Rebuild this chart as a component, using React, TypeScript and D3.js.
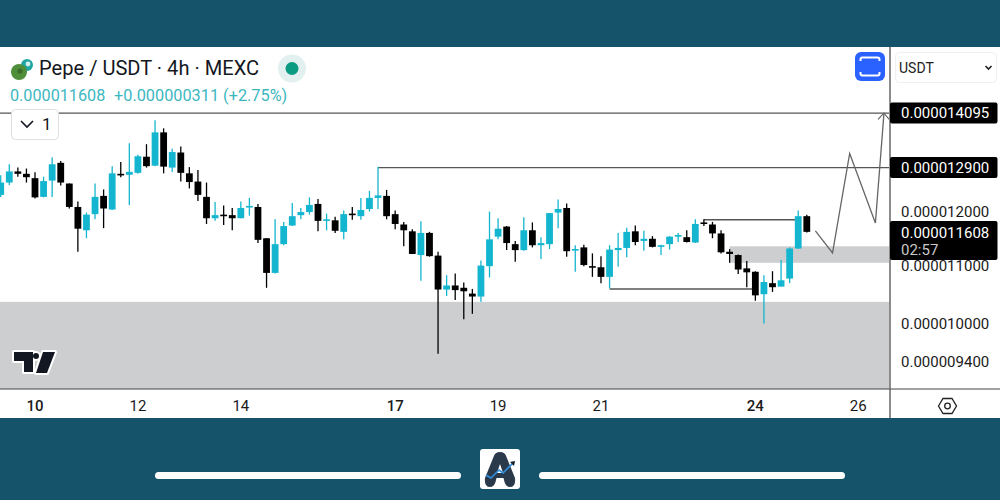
import * as d3 from "d3";

// prices in millionths of a USDT, one entry per 4h candle
const opens = [12.34,12.59,12.82,12.77,12.68,12.30,12.63,13.00,12.57,12.10,11.65,11.96,12.32,12.05,12.77,12.75,12.79,13.13,12.94,13.66,12.90,13.22,12.78,12.61,12.30,11.88,11.95,11.94,11.88,12.10,12.10,11.50,10.87,11.39,11.74,11.94,12.00,12.16,11.83,11.84,11.62,11.97,11.92,12.06,12.28,12.32,11.96,11.76,11.63,11.19,11.60,11.18,10.58,10.65,10.61,10.51,10.46,10.99,11.53,11.72,11.39,11.28,11.65,11.37,11.39,11.99,12.08,11.28,11.33,10.99,10.97,10.80,11.28,11.32,11.63,11.45,11.49,11.34,11.39,11.54,11.52,11.42,11.80,11.76,11.59,11.25,11.19,10.95,10.89,10.50,10.69,10.63,10.77,11.31,11.92];
const closes = [12.59,12.82,12.77,12.70,12.29,12.62,12.97,12.59,12.10,11.68,11.95,12.30,12.07,12.78,12.75,12.81,13.14,12.93,13.66,12.92,13.23,12.79,12.60,12.34,11.88,11.94,11.93,11.88,12.08,12.12,11.47,10.87,11.39,11.73,11.92,12.00,12.14,11.83,11.86,11.64,11.96,11.95,12.04,12.28,12.33,11.92,11.77,11.65,11.21,11.60,11.17,10.58,10.65,10.57,10.55,10.46,11.00,11.48,11.68,11.41,11.28,11.65,11.37,11.41,11.98,12.06,11.26,11.30,11.01,10.97,10.80,11.29,11.32,11.62,11.43,11.49,11.34,11.37,11.53,11.56,11.43,11.77,11.78,11.59,11.24,11.21,10.93,10.88,10.48,10.71,10.62,10.74,11.31,11.92,11.62];
const highs = [12.74,12.97,12.90,12.88,12.80,12.71,13.12,13.04,12.57,12.21,11.99,12.57,12.45,12.93,13.02,13.42,13.17,13.40,13.93,13.75,13.30,13.35,12.91,12.85,12.59,12.20,12.13,12.08,12.21,12.28,12.16,11.50,11.86,11.81,12.18,12.08,12.29,12.26,11.97,11.91,12.03,12.10,12.28,12.42,12.92,12.44,12.03,11.81,11.67,11.82,11.62,11.25,10.83,10.86,10.70,10.59,11.09,12.01,11.88,11.73,11.45,11.90,11.80,11.52,11.98,12.25,12.17,11.37,11.38,11.22,11.17,11.37,11.60,11.70,11.74,11.64,11.54,11.38,11.54,11.60,11.65,11.86,11.86,11.81,11.65,11.30,11.20,11.08,10.90,10.83,10.90,11.10,11.33,12.03,11.95];
const lows = [12.30,12.54,12.71,12.59,12.27,12.29,12.30,12.53,12.07,11.25,11.50,11.86,11.69,12.04,12.70,12.14,12.77,12.90,12.93,12.78,12.81,12.61,12.47,12.22,11.77,11.83,11.75,11.65,11.88,11.93,11.41,10.61,10.86,11.37,11.73,11.86,11.95,11.63,11.65,11.60,11.48,11.85,11.85,12.01,12.06,11.86,11.67,11.35,11.21,10.73,11.16,9.53,10.47,10.40,10.08,10.17,10.37,10.79,11.48,11.28,11.07,11.27,11.33,11.12,11.30,11.69,11.16,10.89,10.99,10.80,10.69,10.60,10.98,11.15,11.37,11.27,11.33,11.19,11.29,11.43,11.42,11.41,11.73,11.50,11.22,11.05,10.85,10.62,10.39,10.01,10.54,10.63,10.69,11.30,11.61];

const priceTicks = [12, 11, 10, 9.4];
const levelLabels = [14.095, 12.9];
const lastPrice = 11.608;

const dayLabels = ["10", "12", "14", "17", "19", "21", "24", "26"];
const dayCandles = [4, 16, 28, 46, 58, 70, 88, 100];
const boldDays = ["10", "17", "24"];

// drawings: [candle index, price]
const targetLevel = 14.095;
const swingHighLevel = 12.9;
const swingHighStart = 44;
const lowerZone = [10.37, 9.0];
const upperZone = [11.35, 11.05];
const upperZoneStart = 85;
const rangeTop = { from: 82, to: 93, price: 11.85 };
const rangeBottom = { from: 71, to: 88, price: 10.59 };
const projection: [number, number][] = [[95, 11.64], [97, 11.23], [99, 13.2], [102, 11.79], [103, 14.095]];
const arrowHead: [number, number][] = [[102.3, 13.95], [103, 14.095], [103.6, 13.95]];

const W = 1000;
const H = 500;
const PLOT_R = 889;
const PANEL_TOP = 47;
const PANEL_BOTTOM = 418;
const AXIS_Y = 389;
const TEAL = "#15536b";
const UP = "#14b6cf";
const DOWN = "#000000";
const ZONE = "#cdced0";
const LINE = "#555555";
const FONT = "Roboto, sans-serif";

const x = d3.scaleLinear().domain([0, 94]).range([0.7, 806.8]);
const y = d3.scaleLog().domain([9.0, 14.095]).range([AXIS_Y, 113.1]);
const path = d3.line<[number, number]>().x((d) => x(d[0])).y((d) => y(d[1]));
const fmt = (p: number) => (p / 1e6).toFixed(9);

const BODY_W = 6.8;

const Candles = () => (
  <g>
    {opens.map((o, i) => {
      const c = closes[i];
      const color = c >= o ? UP : DOWN;
      const top = y(Math.max(o, c));
      const bottom = y(Math.min(o, c));
      return (
        <g key={i}>
          <line x1={x(i)} x2={x(i)} y1={y(highs[i])} y2={y(lows[i])} stroke={color} strokeWidth={1.3} />
          <rect x={x(i) - BODY_W / 2} y={top} width={BODY_W} height={Math.max(bottom - top, 1.6)} fill={color} />
        </g>
      );
    })}
  </g>
);

const Drawings = () => (
  <g stroke={LINE} strokeWidth={1.4} fill="none">
    <line x1={0} x2={PLOT_R} y1={y(targetLevel)} y2={y(targetLevel)} />
    <line x1={x(swingHighStart)} x2={PLOT_R} y1={y(swingHighLevel)} y2={y(swingHighLevel)} />
    <line x1={x(rangeTop.from)} x2={x(rangeTop.to)} y1={y(rangeTop.price)} y2={y(rangeTop.price)} />
    <line x1={x(rangeBottom.from)} x2={x(rangeBottom.to)} y1={y(rangeBottom.price)} y2={y(rangeBottom.price)} />
    <path d={path(projection) ?? ""} strokeWidth={1.3} stroke="#666666" />
    <path d={path(arrowHead) ?? ""} strokeWidth={1.1} stroke="#666666" />
  </g>
);

const PriceAxis = () => (
  <g fontFamily={FONT} fontSize={15} textAnchor="start" dominantBaseline="central">
    {priceTicks.map((p) => (
      <text key={p} x={901} y={y(p)} fill="#1a1a1a">{fmt(p)}</text>
    ))}
    {levelLabels.map((p) => (
      <g key={p}>
        <rect x={890} y={y(p) - 10.5} width={107.5} height={21} rx={2} fill="#000" />
        <text x={901} y={y(p)} fill="#fff">{fmt(p)}</text>
      </g>
    ))}
    <rect x={890} y={221} width={107.5} height={39} rx={2} fill="#000" />
    <text x={901} y={232.5} fill="#fff">{fmt(lastPrice)}</text>
    <text x={901} y={249.5} fill="#c9c9c9">02:57</text>
  </g>
);

const TimeAxis = () => (
  <g fontFamily={FONT} fontSize={15} textAnchor="middle" dominantBaseline="central" fill="#1a1a1a">
    {dayLabels.map((d, i) => (
      <text key={d} x={x(dayCandles[i])} y={406} fontWeight={boldDays.includes(d) ? 500 : 400}>{d}</text>
    ))}
  </g>
);

const Header = () => (
  <g fontFamily={FONT}>
    <circle cx={27} cy={65} r={6} fill="#1fa6a0" />
    <circle cx={28} cy={64} r={2.4} fill="#d7efee" />
    <circle cx={19} cy={72} r={8} fill="#4f8f3a" />
    <circle cx={20} cy={71} r={2.6} fill="#3a6b2b" />
    <text x={39} y={75} fontSize={20.1} fill="#131722">Pepe / USDT · 4h · MEXC</text>
    <circle cx={292} cy={68.5} r={14} fill="#e2f1ef" />
    <circle cx={292} cy={68.5} r={6.5} fill="#0b9a82" />
    <text x={10} y={101} fontSize={16.2} fill="#3cb7c0">0.000011608</text>
    <text x={114} y={101} fontSize={16.3} fill="#3cb7c0">+0.000000311 (+2.75%)</text>
    <rect x={11.5} y={109.5} width={47} height={30} rx={4} fill="#fff" stroke="#dfdfdf" />
    <path d="M21 121 L27 127 L33 121" fill="none" stroke="#131722" strokeWidth={1.6} />
    <text x={42} y={130} fontSize={17} fill="#131722">1</text>
  </g>
);

const Toolbar = () => (
  <g fontFamily={FONT}>
    <rect x={855} y={52} width={30} height={29} rx={6} fill="#2962ff" />
    <path
      d="M860.5 61 V59.5 Q860.5 57.5 862.5 57.5 H877.5 Q879.5 57.5 879.5 59.5 V61 M860.5 72 V73.5 Q860.5 75.5 862.5 75.5 H877.5 Q879.5 75.5 879.5 73.5 V72"
      fill="none"
      stroke="#fff"
      strokeWidth={2}
    />
    <rect x={895.5} y={52.5} width={101} height={30} rx={4} fill="#fff" stroke="#efefef" />
    <text x={899} y={72.5} fontSize={14} fill="#222">USDT</text>
    <path d="M985.5 66 L988.5 69 L991.5 66" fill="none" stroke="#222" strokeWidth={1.6} />
    <path d="M938.5 406 L943 398.5 H952 L956.5 406 L952 413.5 H943 Z" fill="none" stroke="#222" strokeWidth={1.3} />
    <circle cx={947.5} cy={406} r={2.8} fill="none" stroke="#222" strokeWidth={1.3} />
  </g>
);

const TvLogo = () => (
  <g>
    <g fill="#fff" stroke="#fff" strokeWidth={4} strokeLinejoin="round">
      <path d="M14 352 H33 V372 H24 V361 H14 Z" />
      <circle cx={36} cy={356} r={3} />
      <path d="M43 352 H55 L47 373 H36 Z" />
    </g>
    <g fill="#131722">
      <path d="M14 352 H33 V372 H24 V361 H14 Z" />
      <circle cx={36} cy={356} r={3} />
      <path d="M43 352 H55 L47 373 H36 Z" />
    </g>
  </g>
);

const Footer = () => (
  <g>
    <rect x={155} y={472} width={306} height={7} rx={3.5} fill="#fff" />
    <rect x={539} y={472} width={306} height={7} rx={3.5} fill="#fff" />
    <rect x={480} y={449} width={40} height={40} rx={3} fill="#fff" />
    <path
      d="M500 452 Q495 452 493.5 457 L485 478 Q484 487 490 487 Q494 487 495.5 482 L496.5 478 H503.5 L504.5 482 Q506 487 510 487 Q516 487 515 478 L506.5 457 Q505 452 500 452 Z"
      fill="#2b3a4a"
    />
    <path d="M497 473 L500 464 L503 473 Z" fill="#fff" />
    <path d="M486 475 L491 478 L499 470 L503 473 L514 462" fill="none" stroke="#2f8fe0" strokeWidth={1.6} />
    <path d="M510 462 L515 461 L514 466 Z" fill="#14202c" />
  </g>
);

export default function App() {
  return (
    <svg width={W} height={H} style={{ position: "fixed", left: 0, top: 0, display: "block" }}>
      <rect width={W} height={H} fill={TEAL} />
      <rect y={PANEL_TOP} width={W} height={PANEL_BOTTOM - PANEL_TOP} fill="#fff" />
      <rect x={0} width={PLOT_R} y={y(lowerZone[0])} height={y(lowerZone[1]) - y(lowerZone[0])} fill={ZONE} />
      <rect
        x={x(upperZoneStart)}
        width={PLOT_R - x(upperZoneStart)}
        y={y(upperZone[0])}
        height={y(upperZone[1]) - y(upperZone[0])}
        fill={ZONE}
      />
      <Drawings />
      <Candles />
      <line x1={0} x2={W} y1={AXIS_Y} y2={AXIS_Y} stroke="#444" strokeWidth={1.2} />
      <line x1={890} x2={890} y1={PANEL_TOP} y2={PANEL_BOTTOM} stroke="#666" strokeWidth={1.5} />
      <TvLogo />
      <Header />
      <Toolbar />
      <PriceAxis />
      <TimeAxis />
      <Footer />
    </svg>
  );
}
